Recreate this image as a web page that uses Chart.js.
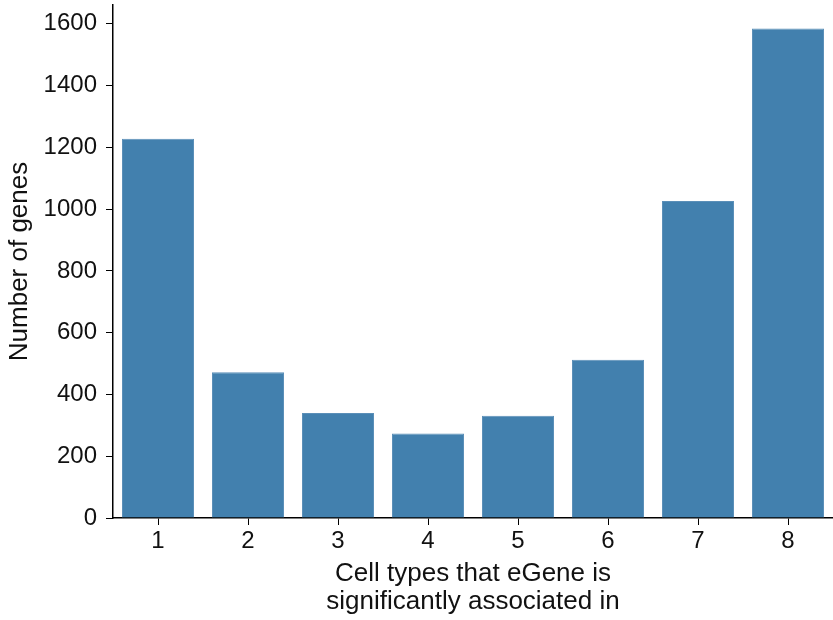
<!DOCTYPE html>
<html>
<head>
<meta charset="utf-8">
<script src="https://cdn.jsdelivr.net/npm/chart.js@4/dist/chart.umd.min.js"></script>
<style>
  html, body { margin: 0; padding: 0; background: #fff; }
  #wrap { width: 833px; height: 620px; position: relative; }
</style>
</head>
<body>
<div id="wrap"><canvas id="chart"></canvas></div>
<script>
// number of cell types an eGene is associated in
const cellTypes = ['1', '2', '3', '4', '5', '6', '7', '8'];
const geneCounts = [1228, 472, 340, 274, 331, 512, 1026, 1585];
const yTicks = [0, 200, 400, 600, 800, 1000, 1200, 1400, 1600];

const family = 'Liberation Sans, Arial, sans-serif';
const tickFont = { family, size: 24 };
const titleFont = { family, size: 26, lineHeight: 1.08 };

const ctx = document.getElementById('chart').getContext('2d');
new Chart(ctx, {
  type: 'bar',
  data: {
    labels: cellTypes,
    datasets: [{
      data: geneCounts,
      backgroundColor: '#4280ae',
      borderColor: '#5b8fb8',
      borderWidth: 1,
      categoryPercentage: 1,
      barPercentage: 0.8,
    }],
  },
  options: {
    responsive: true,
    maintainAspectRatio: false,
    animation: false,
    layout: { padding: { top: 5, right: 0, left: 0, bottom: 0 } },
    plugins: { legend: { display: false }, tooltip: { enabled: false } },
    scales: {
      x: {
        grid: { offset: false, drawOnChartArea: false, drawTicks: true, tickLength: 7, color: '#000' },
        border: { display: true, color: '#000', width: 1.5 },
        ticks: { color: '#111', font: tickFont, padding: 2 },
        title: {
          display: true,
          text: ['Cell types that eGene is', 'significantly associated in'],
          color: '#111', font: titleFont, padding: { top: 0, bottom: 4 },
        },
        afterFit: (axis) => {
          axis.height = 102;
          axis.paddingLeft = 0; axis.paddingRight = 0;
        },
      },
      y: {
        min: 0,
        max: 1661,
        afterBuildTicks: (axis) => { axis.ticks = yTicks.map(v => ({ value: v })); },
        grid: { drawOnChartArea: false, drawTicks: true, tickLength: 7, color: '#000' },
        border: { display: true, color: '#000', width: 1.5 },
        ticks: { color: '#111', font: tickFont, padding: 9, callback: (v) => String(v) },
        title: { display: true, text: 'Number of genes', color: '#111', font: titleFont, padding: { top: 6, bottom: 2 } },
        afterFit: (axis) => {
          axis.width = 113;
          axis.paddingTop = 0; axis.paddingBottom = 0;
        },
      },
    },
  },
});
</script>
</body>
</html>
